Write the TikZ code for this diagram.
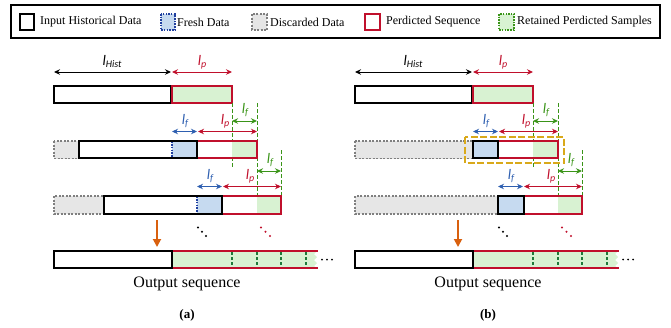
\documentclass[tikz,border=0pt]{standalone}
\usepackage{fontspec}
\setmainfont{Liberation Serif}
\newfontfamily\carl{Carlito}
\usetikzlibrary{arrows.meta}
\definecolor{myred}{HTML}{C0102C}
\definecolor{greenfill}{HTML}{D8F2D2}
\definecolor{gline}{HTML}{3A9418}
\definecolor{dgline}{HTML}{1E7A3A}
\definecolor{bluefill}{HTML}{C6DAF0}
\definecolor{blueline}{HTML}{2E5FB0}
\definecolor{bluedot}{HTML}{1F3F9F}
\definecolor{grayfill}{HTML}{E6E6E6}
\definecolor{graybd}{HTML}{7F7F7F}
\definecolor{orangearr}{HTML}{D9600E}
\definecolor{goldbox}{HTML}{D9A91A}
\newcommand\lsym[1]{{\carl\itshape\fontsize{14.5}{14.5}\selectfont l\raisebox{-2.5pt}{\fontsize{10}{10}\selectfont #1}}}
\tikzset{
  histbox/.style={draw=black, line width=1.4pt},
  predbox/.style={draw=myred, line width=1.3pt},
  discbox/.style={draw=graybd, fill=grayfill, line width=1.1pt, dash pattern=on 2pt off 1.5pt},
  gvline/.style={draw=gline, line width=1pt, dash pattern=on 4pt off 2pt},
  ovline/.style={draw=dgline, line width=1.5pt, dash pattern=on 3pt off 2pt},
  dimarr/.style={{Stealth[length=6pt,width=5.5pt]}-{Stealth[length=6pt,width=5.5pt]}, line width=0.9pt},
  lbl/.style={inner sep=0pt, anchor=base},
  legtext/.style={font=\fontsize{12}{14}\selectfont, anchor=west, inner sep=0pt},
  dotc/.style={circle, inner sep=0pt, minimum size=2.2pt},
}
\begin{document}
\begin{tikzpicture}[x=1pt,y=-1pt]
\useasboundingbox (0,0) rectangle (671,327);
% legend
\draw[line width=1.2pt] (11,5) rectangle (660,38);
\draw[histbox] (20,14) rectangle (34,30);
\node[legtext] (t1) at (40,22) {Input Historical Data};
\draw[fill=bluefill, draw=bluedot, line width=1.1pt, dash pattern=on 1.5pt off 1.2pt] (161,14) rectangle (175,30);
\node[legtext] (t2) at (177,22) {Fresh Data};
\draw[discbox] (252,14) rectangle (267,30);
\node[legtext] (t3) at (270,22) {Discarded Data};
\draw[predbox] (365,14) rectangle (380,30);
\node[legtext] (t4) at (386,22) {Perdicted Sequence};
\draw[fill=greenfill, draw=gline, line width=1.1pt, dash pattern=on 1.5pt off 1.2pt] (499,14) rectangle (514,30);
\node[legtext] (t5) at (517,22) {Retained Perdicted Samples};

\foreach \px/\pan in {0/a,301/b}{
\begin{scope}[xshift=\px pt]
  % row 1
  \draw[dimarr] (54,72) -- (171,72);
  \draw[dimarr, myred] (172,72) -- (232,72);
  \node[lbl] (lh\pan) at (112,65) {\lsym{Hist}};
  \node[lbl, text=myred] (lp1\pan) at (202,65) {\lsym{p}};
  \draw[histbox] (54,86) rectangle (171,103);
  \draw[predbox, fill=greenfill] (172,86) rectangle (232,103);
  % green dashed verticals
  \draw[gvline] (232,103) -- (232,168);
  \draw[gvline] (257,103) -- (257,214);
  \draw[gvline] (281,150) -- (281,214);
  % row 2 arrows
  \draw[dimarr, blueline] (172,131.5) -- (197,131.5);
  \draw[dimarr, myred] (198,131.5) -- (257,131.5);
  \draw[dimarr, gline] (232,121) -- (257,121);
  \node[lbl, text=blueline] (lf2\pan) at (185,124) {\lsym{f}};
  \node[lbl, text=myred] (lp2\pan) at (225,124) {\lsym{p}};
  \node[lbl, text=gline] (lg2\pan) at (245,113) {\lsym{f}};
  % row 3 arrows
  \draw[dimarr, blueline] (197,186.5) -- (222,186.5);
  \draw[dimarr, myred] (223,186.5) -- (281,186.5);
  \draw[dimarr, gline] (257,171) -- (281,171);
  \node[lbl, text=blueline] (lf3\pan) at (210,179) {\lsym{f}};
  \node[lbl, text=myred] (lp3\pan) at (250,179) {\lsym{p}};
  \node[lbl, text=gline] (lg3\pan) at (270,163) {\lsym{f}};
  % red parts rows 2,3
  \fill[greenfill] (232,141) rectangle (257,158);
  \draw[predbox] (197,141) rectangle (257,158);
  \fill[greenfill] (257,196) rectangle (281,214);
  \draw[predbox] (222,196) rectangle (281,214);
  % output row
  \draw[orangearr, line width=1.8pt, -{Triangle[length=8pt,width=8pt]}] (157,220) -- (157,247);
  \foreach \dx/\dy in {198/227.5,202/231.8,206/236}{\node[dotc, fill=black] at (\dx,\dy) {};}
  \foreach \dx/\dy in {261/227.5,265.5/231.8,270/236}{\node[dotc, fill=myred] at (\dx,\dy) {};}
  \fill[greenfill] (172,251) -- (317,251) -- (314,254) -- (317,257) -- (314,260) -- (317,263) -- (314,266) -- (317,268) -- (172,268) -- cycle;
  \foreach \vx in {232,257,281,306}{\draw[ovline] (\vx,252) -- (\vx,267);}
  \draw[myred, line width=1.3pt] (172,251) -- (318,251);
  \draw[myred, line width=1.3pt] (172,268) -- (318,268);
  \draw[histbox, fill=white] (54,251) rectangle (172,268);
  \foreach \dx in {322,327,332}{\node[dotc, fill=black, minimum size=2pt] at (\dx,259.5) {};}
  \node[font=\fontsize{16}{18}\selectfont, inner sep=0pt] (os\pan) at (187,284) {Output sequence};
  \node[font=\bfseries\fontsize{13}{15}\selectfont, inner sep=0pt] (cap\pan) at (187,315) {(\pan)};
\end{scope}
}
% panel (a) specific
\draw[discbox] (54,141) rectangle (79,158.5);
\fill[bluefill] (172,141) rectangle (197,158);
\draw[bluedot, line width=1.1pt, dash pattern=on 1.5pt off 1.2pt] (172,141.5) -- (172,158);
\draw[histbox] (79,141) rectangle (197,158);
\draw[discbox] (54,196) rectangle (104,214);
\fill[bluefill] (197,196) rectangle (222,214);
\draw[bluedot, line width=1.1pt, dash pattern=on 1.5pt off 1.2pt] (197,196.5) -- (197,213.5);
\draw[histbox] (104,196) rectangle (222,214);
% panel (b) specific
\begin{scope}[xshift=301pt]
\draw[discbox] (54,141) rectangle (172,158.5);
\draw[histbox, fill=bluefill] (172,141) rectangle (197,158);
\draw[discbox] (54,196) rectangle (197,214);
\draw[histbox, fill=bluefill] (197,196) rectangle (223,214);
\draw[goldbox, line width=1.6pt, dash pattern=on 7pt off 2.5pt] (164,137) rectangle (263,163);
\end{scope}
\end{tikzpicture}
\end{document}
